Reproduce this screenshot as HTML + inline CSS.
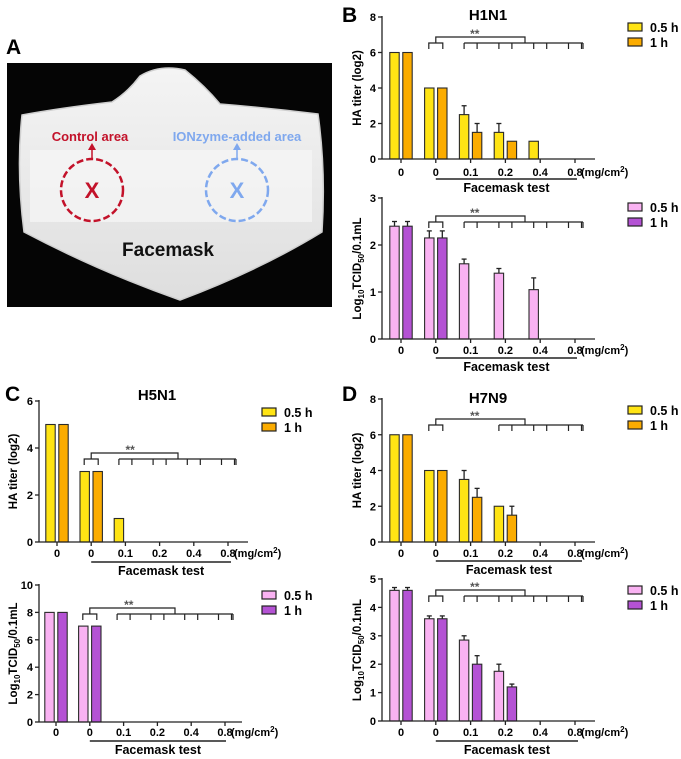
<!DOCTYPE html>
<html><head><meta charset="utf-8"><style>
html,body{margin:0;padding:0;background:#fff;}
svg{display:block;font-family:"Liberation Sans",Arial,sans-serif;}
</style></head><body>
<svg id="fig" width="681" height="759" viewBox="0 0 681 759" xmlns="http://www.w3.org/2000/svg">
<defs>
<linearGradient id="mg" x1="0" y1="0" x2="0" y2="1"><stop offset="0" stop-color="#f4f4f4"/><stop offset="1" stop-color="#dedede"/></linearGradient>
</defs>
<g>
<text x="6" y="54" font-size="21" font-weight="bold">A</text>
<rect x="7" y="63" width="325" height="244" fill="#050505"/>
<path d="M22 115 Q60 108 112 102 Q128 92 140 76 Q160 64 185 70 Q205 86 220 104 Q270 108 318 114 Q326 170 322 232 Q260 270 180 300 Q100 272 24 232 Q16 170 22 115 Z" fill="url(#mg)" stroke="#cfcfcf" stroke-width="1.5"/>
<path d="M30 150 L312 150 L312 222 L30 222 Z" fill="#f7f7f7" opacity="0.7"/>
<text x="90" y="141" text-anchor="middle" font-size="13" font-weight="bold" fill="#c3122a">Control area</text>
<text x="237" y="141" text-anchor="middle" font-size="13" font-weight="bold" fill="#7fa8ee">IONzyme-added area</text>
<line x1="92" y1="160" x2="92" y2="147" stroke="#c3122a" stroke-width="1.5"/><path d="M88 150 L92 143 L96 150 Z" fill="#c3122a"/>
<line x1="237" y1="160" x2="237" y2="147" stroke="#7fa8ee" stroke-width="1.5"/><path d="M233 150 L237 143 L241 150 Z" fill="#7fa8ee"/>
<circle cx="92" cy="190" r="31" fill="none" stroke="#c3122a" stroke-width="2.5" stroke-dasharray="7 3"/>
<circle cx="237" cy="190" r="31" fill="none" stroke="#7fa8ee" stroke-width="2.5" stroke-dasharray="7 3"/>
<text x="92" y="198" text-anchor="middle" font-size="22" font-weight="bold" fill="#c3122a">X</text>
<text x="237" y="198" text-anchor="middle" font-size="22" font-weight="bold" fill="#7fa8ee">X</text>
<text x="168" y="256" text-anchor="middle" font-size="19" font-weight="bold" fill="#111">Facemask</text>
</g>
<g id="charts"></g>
<text x="342" y="22" font-size="21" font-weight="bold">B</text>
<text x="488" y="20" text-anchor="middle" font-size="15" font-weight="bold">H1N1</text>
<text x="5" y="401" font-size="21" font-weight="bold">C</text>
<text x="157" y="400" text-anchor="middle" font-size="15" font-weight="bold">H5N1</text>
<text x="342" y="401" font-size="21" font-weight="bold">D</text>
<text x="488" y="403" text-anchor="middle" font-size="15" font-weight="bold">H7N9</text>
</svg>
<script>
const categories = ["0","0","0.1","0.2","0.4","0.8"];
const b1Half = [6,4,2.5,1.5,1,0];
const b1HalfErr = [0,0,0.5,0.5,0,0];
const b1One = [6,4,1.5,1,0,0];
const b1OneErr = [0,0,0.5,0,0,0];
const b2Half = [2.4,2.15,1.6,1.4,1.05,0];
const b2HalfErr = [0.1,0.15,0.1,0.1,0.25,0];
const b2One = [2.4,2.15,0,0,0,0];
const b2OneErr = [0.1,0.15,0,0,0,0];
const c1Half = [5,3,1,0,0,0];
const c1One = [5,3,0,0,0,0];
const c2Half = [8,7,0,0,0,0];
const c2One = [8,7,0,0,0,0];
const d1Half = [6,4,3.5,2,0,0];
const d1HalfErr = [0,0,0.5,0,0,0];
const d1One = [6,4,2.5,1.5,0,0];
const d1OneErr = [0,0,0.5,0.5,0,0];
const d2Half = [4.6,3.6,2.85,1.75,0,0];
const d2HalfErr = [0.1,0.1,0.15,0.25,0,0];
const d2One = [4.6,3.6,2.0,1.2,0,0];
const d2OneErr = [0.1,0.1,0.3,0.1,0,0];
const zeros = [0,0,0,0,0,0];
const ticksHA8 = [0,2,4,6,8];
const ticksHA6 = [0,2,4,6];
const ticksT3 = [0,1,2,3];
const ticksT10 = [0,2,4,6,8,10];
const ticksT5 = [0,1,2,3,4,5];
const legendLabels = ["0.5 h","1 h"];

const NS="http://www.w3.org/2000/svg";
const root=document.getElementById('charts');
function mk(tag,attrs,parent){const e=document.createElementNS(NS,tag);for(const k in attrs)e.setAttribute(k,attrs[k]);(parent||root).appendChild(e);return e;}

function chart(o){
  const g=mk('g',{});
  
  
  const x0=o.x0,x1=o.x1,y0=o.y0,yt=o.yTop,max=o.ticks[o.ticks.length-1];
  const ys=v=>y0-(v/max)*(y0-yt);
  const sp=(o.g6-o.g1)/5;
  const xs=i=>o.g1+i*sp;
  // bars
  [[o.half,o.halfErr,o.c1,-6.5],[o.one,o.oneErr,o.c2,6.5]].forEach((s,si)=>{
    s[0].forEach((v,i)=>{
      if(v<=0)return;
      const cx=xs(i)+s[3];
      const e=s[1][i]||0;
      if(e>0){
        mk('line',{x1:cx,y1:ys(v),x2:cx,y2:ys(v+e),stroke:'#222','stroke-width':1.3},g);
        mk('line',{x1:cx-2.5,y1:ys(v+e),x2:cx+2.5,y2:ys(v+e),stroke:'#222','stroke-width':1.3},g);
      }
      const r=mk('rect',{x:cx-4.7,y:ys(v),width:9.4,height:y0-ys(v),fill:s[2],stroke:'#2a2a2a','stroke-width':1.1},g);
      
      
    });
  });
  // axes
  mk('line',{x1:x0,y1:yt-1,x2:x0,y2:y0,stroke:'#222','stroke-width':1.3},g);
  mk('line',{x1:x0,y1:y0,x2:x1,y2:y0,stroke:'#222','stroke-width':1.3},g);
  o.ticks.forEach(t=>{
    mk('line',{x1:x0-4,y1:ys(t),x2:x0,y2:ys(t),stroke:'#222','stroke-width':1.3},g);
    const tx=mk('text',{x:x0-6,y:ys(t)+4,'text-anchor':'end','font-size':11,'font-weight':'bold'},g);
    tx.textContent=t;
    
    
  });
  categories.forEach((c,i)=>{
    mk('line',{x1:xs(i),y1:y0,x2:xs(i),y2:y0+4,stroke:'#222','stroke-width':1.3},g);
    const tx=mk('text',{x:xs(i),y:o.lblY+4,'text-anchor':'middle','font-size':11,'font-weight':'bold'},g);
    tx.textContent=c;
    
    
  });
  const u=mk('text',{x:xs(5)+6,y:o.lblY+4,'font-size':11,'font-weight':'bold'},g);
  u.innerHTML='(mg/cm<tspan dy="-4" font-size="8">2</tspan><tspan dy="4">)</tspan>';
  
  
  mk('line',{x1:xs(1),y1:o.ulY,x2:o.ulX2,y2:o.ulY,stroke:'#222','stroke-width':1.5},g);
  const ft=mk('text',{x:(xs(1)+o.ulX2)/2,y:o.ulY+13,'text-anchor':'middle','font-size':12.5,'font-weight':'bold'},g);
  ft.textContent='Facemask test';
  
  
  // y title
  const yl=mk('text',{transform:`translate(${o.ytX},${(y0+yt)/2}) rotate(-90)`,'text-anchor':'middle','font-size':11.5,'font-weight':'bold'},g);
  if(o.tcid) yl.innerHTML='Log<tspan font-size="8" dy="3">10</tspan><tspan dy="-3">TCID</tspan><tspan font-size="8" dy="3">50</tspan><tspan dy="-3">/0.1mL</tspan>';
  else yl.textContent='HA titer (log2)';
  
  
  // bracket
  const bt=o.bTop,bl=bt+6,bb=bt+12;
  const st={stroke:'#222','stroke-width':1.2,fill:'none'};
  mk('polyline',Object.assign({points:`${xs(1)-7},${bb} ${xs(1)-7},${bl} ${xs(1)+7},${bl} ${xs(1)+7},${bb}`},st),g);
  mk('polyline',Object.assign({points:`${xs(1)},${bl} ${xs(1)},${bt} ${o.bMid},${bt} ${o.bMid},${bl}`},st),g);
  const s0=o.bStart;
  mk('line',Object.assign({x1:xs(s0)-6.5,y1:bl,x2:xs(5)+8,y2:bl},st),g);
  for(let i=s0;i<6;i++){[-6.5,6.5].forEach(d=>{mk('line',Object.assign({x1:xs(i)+d,y1:bl,x2:xs(i)+d,y2:bb},st),g);});}
  mk('line',Object.assign({x1:xs(5)+8,y1:bl,x2:xs(5)+8,y2:bb},st),g);
  const ss=mk('text',{x:xs(1)+39,y:bt+1,'text-anchor':'middle','font-size':12,'font-weight':'bold',fill:'#555'},g);
  ss.textContent='**';
  
  
  // legend
  [o.c1,o.c2].forEach((c,i)=>{
    const ly=o.legY+i*15;
    const r=mk('rect',{x:o.legX,y:ly-4,width:14,height:8,fill:c,stroke:'#222','stroke-width':1.2},g);
    
    
    const t=mk('text',{x:o.legX+22,y:ly+5,'font-size':12.5,'font-weight':'bold'},g);
    t.textContent=legendLabels[i];
    
    
  });
}
const Y1='#ffe414',O1='#fbac00',P1='#f9b2f2',P2='#b452d4';
chart({name:'chart-b-ha',x0:382,x1:595,y0:159,yTop:17,ticks:ticksHA8,g1:401,g6:575,half:b1Half,halfErr:b1HalfErr,one:b1One,oneErr:b1OneErr,c1:Y1,c2:O1,lblY:172,ulY:179,ulX2:577,ytX:361,bTop:37,bMid:525,bStart:2,legX:628,legY:27});
chart({name:'chart-b-tcid',x0:382,x1:595,y0:339,yTop:198,ticks:ticksT3,g1:401,g6:575,half:b2Half,halfErr:b2HalfErr,one:b2One,oneErr:b2OneErr,c1:P1,c2:P2,lblY:350,ulY:358,ulX2:577,ytX:361,tcid:true,bTop:216,bMid:525,bStart:2,legX:628,legY:207});
chart({name:'chart-c-ha',x0:39,x1:248,y0:542,yTop:401,ticks:ticksHA6,g1:57,g6:228,half:c1Half,halfErr:zeros,one:c1One,oneErr:zeros,c1:Y1,c2:O1,lblY:553,ulY:562,ulX2:231,ytX:17,bTop:453,bMid:178,bStart:2,legX:262,legY:412});
chart({name:'chart-c-tcid',x0:39,x1:242,y0:722,yTop:585,ticks:ticksT10,g1:56,g6:225,half:c2Half,halfErr:zeros,one:c2One,oneErr:zeros,c1:P1,c2:P2,lblY:732,ulY:741,ulX2:226,ytX:17,tcid:true,bTop:608,bMid:175,bStart:2,legX:262,legY:595});
chart({name:'chart-d-ha',x0:382,x1:595,y0:542,yTop:399,ticks:ticksHA8,g1:401,g6:575,half:d1Half,halfErr:d1HalfErr,one:d1One,oneErr:d1OneErr,c1:Y1,c2:O1,lblY:553,ulY:561,ulX2:582,ytX:361,bTop:419,bMid:525,bStart:3,legX:628,legY:410});
chart({name:'chart-d-tcid',x0:382,x1:595,y0:721,yTop:579,ticks:ticksT5,g1:401,g6:575,half:d2Half,halfErr:d2HalfErr,one:d2One,oneErr:d2OneErr,c1:P1,c2:P2,lblY:732,ulY:741,ulX2:578,ytX:361,tcid:true,bTop:590,bMid:525,bStart:2,legX:628,legY:590});
</script>
</body></html>
